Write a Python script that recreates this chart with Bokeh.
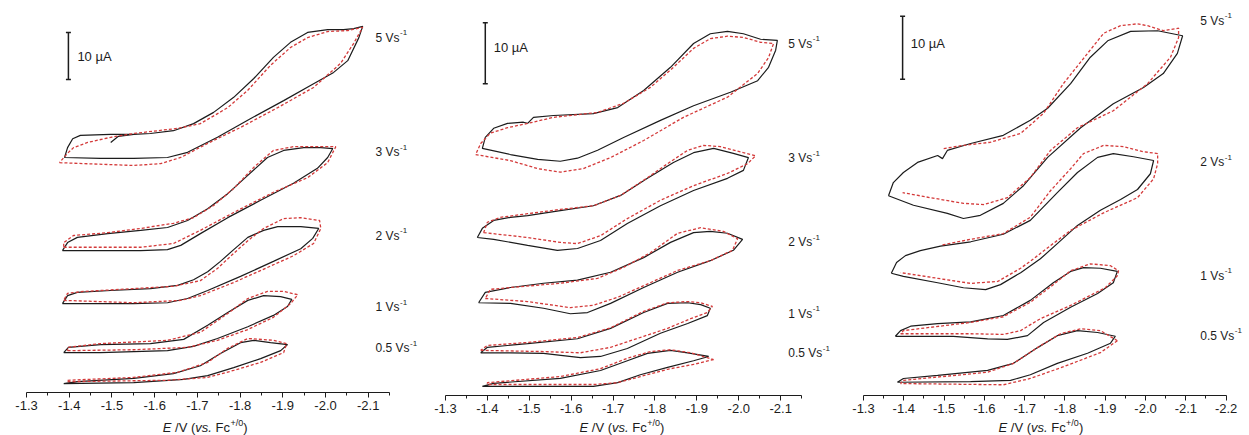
from bokeh.plotting import figure
from bokeh.layouts import row, column
from bokeh.models import Range1d, FixedTicker, Label, NumeralTickFormatter
from bokeh.embed import file_html
from bokeh.resources import INLINE

# ---------------- data: E (V vs Fc+/0), I (uA, stacked) ----------------
# Panel 1
P1_5_BK_E = [-1.497,-1.515,-1.551,-1.590,-1.644,-1.691,-1.738,-1.785,-1.832,-1.878,-1.918,-1.958,-2.005,-2.042,-2.066,-2.087,-2.078,-2.052,-2.019,-1.972,-1.902,-1.825,-1.747,-1.677,-1.630,-1.551,-1.473,-1.389,-1.396,-1.408,-1.426,-1.497,-1.551]
P1_5_BK_I = [53.2,54.5,54.9,55.1,55.7,57.2,59.6,62.8,66.8,71.3,74.5,76.6,77.2,77.2,77.4,77.9,75.5,70.6,68.1,65.7,62.1,58.3,54.3,51.1,50.0,49.8,49.8,50.0,52.1,54.0,54.7,54.9,54.9]
P1_5_RD_E = [-1.377,-1.433,-1.551,-1.614,-1.661,-1.724,-1.801,-1.888,-1.972,-2.035,-2.066,-2.087,-2.052,-2.005,-1.958,-1.918,-1.871,-1.818,-1.771,-1.707,-1.654,-1.551,-1.497,-1.443,-1.410,-1.396,-1.377]
P1_5_RD_I = [48.9,48.7,48.3,48.7,50.0,53.0,56.4,60.6,64.9,70.0,74.3,77.7,77.0,76.8,75.5,73.4,69.6,64.3,60.6,57.2,56.2,55.1,54.3,53.2,52.1,50.9,48.9]
P1_3_BK_E = [-1.384,-1.396,-1.419,-1.490,-1.567,-1.630,-1.677,-1.724,-1.771,-1.818,-1.864,-1.902,-1.949,-1.989,-2.017,-2.005,-1.981,-1.925,-1.848,-1.771,-1.707,-1.661,-1.630,-1.567,-1.490,-1.384]
P1_3_BK_I = [30.2,31.9,33.0,33.8,34.5,35.1,36.6,39.1,42.3,46.2,50.0,51.5,52.1,52.1,51.9,50.0,47.7,44.5,40.9,37.2,33.8,31.3,30.4,30.2,30.2,30.2]
P1_3_RD_E = [-1.387,-1.567,-1.644,-1.707,-1.785,-1.878,-1.958,-2.005,-2.024,-1.989,-1.925,-1.878,-1.832,-1.785,-1.738,-1.691,-1.644,-1.567,-1.490,-1.410,-1.387,-1.387]
P1_3_RD_I = [30.9,30.9,31.7,34.5,38.3,42.6,45.7,48.9,52.3,52.3,52.3,51.5,47.9,43.4,39.8,37.2,36.0,34.9,34.0,33.4,31.9,30.9]
P1_2_BK_E = [-1.384,-1.396,-1.419,-1.497,-1.590,-1.654,-1.691,-1.724,-1.754,-1.785,-1.818,-1.855,-1.888,-1.942,-1.984,-1.970,-1.942,-1.878,-1.801,-1.724,-1.677,-1.630,-1.551,-1.384]
P1_2_BK_I = [18.9,20.6,21.3,21.7,22.1,22.8,24.0,25.7,27.9,30.4,33.0,34.5,35.3,35.3,34.9,32.8,30.6,27.9,24.7,21.7,20.0,19.1,18.9,18.9]
P1_2_RD_E = [-1.387,-1.551,-1.661,-1.707,-1.785,-1.864,-1.925,-1.972,-1.989,-1.986,-1.942,-1.902,-1.855,-1.818,-1.785,-1.747,-1.707,-1.644,-1.551,-1.433,-1.396,-1.387]
P1_2_RD_I = [19.6,19.1,19.6,20.6,23.4,26.6,29.1,31.7,34.9,36.6,37.2,37.0,34.9,32.3,29.6,26.4,23.8,22.6,22.1,21.5,21.1,19.6]
P1_1_BK_E = [-1.387,-1.398,-1.473,-1.590,-1.668,-1.724,-1.771,-1.818,-1.855,-1.895,-1.921,-1.911,-1.878,-1.818,-1.747,-1.691,-1.630,-1.473,-1.387]
P1_1_BK_I = [8.5,9.6,10.2,10.4,11.3,14.3,17.0,19.6,20.6,20.4,19.8,18.3,16.4,14.0,11.5,9.8,8.9,8.5,8.5]
P1_1_RD_E = [-1.396,-1.551,-1.677,-1.747,-1.818,-1.878,-1.918,-1.935,-1.902,-1.864,-1.818,-1.771,-1.707,-1.630,-1.473,-1.396,-1.396]
P1_1_RD_I = [8.9,9.1,9.6,11.1,13.4,16.0,18.9,20.8,21.5,21.5,20.0,16.8,12.8,11.1,10.4,9.6,8.9]
P1_05_BK_E = [-1.387,-1.419,-1.551,-1.644,-1.707,-1.754,-1.801,-1.832,-1.871,-1.911,-1.895,-1.848,-1.785,-1.724,-1.668,-1.551,-1.387]
P1_05_BK_I = [1.9,2.3,3.0,4.0,5.7,8.3,10.6,11.1,10.6,10.2,8.9,7.2,5.3,3.6,2.8,2.1,1.9]
P1_05_RD_E = [-1.396,-1.630,-1.724,-1.785,-1.848,-1.902,-1.909,-1.878,-1.818,-1.771,-1.724,-1.654,-1.551,-1.396,-1.396]
P1_05_RD_I = [2.3,2.6,3.2,4.7,6.4,8.5,10.4,11.1,11.5,9.4,6.4,4.3,3.2,2.6,2.3]

# Panel 2
P2_5_BK_E = [-1.496,-1.510,-1.558,-1.653,-1.711,-1.773,-1.837,-1.892,-1.932,-1.973,-2.011,-2.052,-2.092,-2.088,-2.071,-2.045,-1.980,-1.892,-1.813,-1.725,-1.663,-1.615,-1.574,-1.520,-1.455,-1.388,-1.395,-1.415,-1.448,-1.486,-1.496]
P2_5_BK_I = [44.6,45.6,45.9,46.2,47.2,50.0,53.8,57.7,59.3,59.7,59.3,58.4,58.2,56.6,53.8,51.6,49.7,47.5,45.1,42.3,40.2,38.9,38.4,38.7,39.5,40.5,42.3,43.8,44.6,44.8,44.6]
P2_5_RD_E = [-1.372,-1.455,-1.520,-1.574,-1.629,-1.694,-1.773,-1.868,-1.973,-2.045,-2.071,-2.083,-2.052,-2.011,-1.973,-1.932,-1.892,-1.844,-1.789,-1.725,-1.663,-1.558,-1.496,-1.448,-1.407,-1.384,-1.372]
P2_5_RD_I = [39.5,38.5,37.2,36.6,37.2,39.0,41.8,45.6,48.9,52.8,55.4,57.7,57.9,58.7,58.9,58.5,56.9,53.8,50.5,47.9,46.4,45.6,44.6,43.9,43.0,41.3,39.5]
P2_3_BK_E = [-1.376,-1.388,-1.415,-1.455,-1.496,-1.574,-1.653,-1.718,-1.782,-1.844,-1.892,-1.940,-1.987,-2.023,-2.011,-1.973,-1.892,-1.813,-1.734,-1.670,-1.615,-1.567,-1.496,-1.415,-1.376]
P2_3_BK_I = [25.9,27.4,28.7,29.2,29.5,30.3,31.1,32.8,35.6,38.2,39.8,40.5,39.7,39.0,36.9,35.6,33.6,31.1,28.2,25.4,24.1,23.8,24.6,25.6,25.9]
P2_3_RD_E = [-1.391,-1.496,-1.574,-1.615,-1.670,-1.734,-1.813,-1.892,-1.973,-2.021,-2.040,-2.011,-1.956,-1.916,-1.878,-1.830,-1.782,-1.718,-1.653,-1.574,-1.496,-1.431,-1.400,-1.391]
P2_3_RD_I = [26.7,25.9,25.1,24.9,26.2,29.0,32.0,34.4,36.4,38.0,39.3,39.8,40.8,41.0,40.2,38.0,35.7,32.8,31.1,30.5,29.8,29.2,28.4,26.7]
P2_2_BK_E = [-1.379,-1.395,-1.455,-1.534,-1.615,-1.694,-1.773,-1.837,-1.892,-1.932,-1.973,-2.009,-1.987,-1.932,-1.854,-1.773,-1.694,-1.639,-1.598,-1.534,-1.455,-1.379]
P2_2_BK_I = [15.2,16.9,17.7,18.4,18.9,20.2,22.6,25.1,26.7,26.9,26.6,25.6,23.8,22.1,20.2,17.7,15.1,13.6,13.4,14.3,15.1,15.2]
P2_2_RD_E = [-1.395,-1.496,-1.598,-1.653,-1.711,-1.773,-1.854,-1.932,-1.985,-1.997,-1.963,-1.909,-1.854,-1.789,-1.725,-1.663,-1.574,-1.455,-1.407,-1.395]
P2_2_RD_I = [15.9,15.4,14.4,14.8,16.1,18.0,20.5,22.1,23.8,25.7,26.9,27.5,26.6,23.4,21.0,19.2,18.4,17.7,17.4,15.9]
P2_1_BK_E = [-1.384,-1.400,-1.496,-1.615,-1.694,-1.773,-1.830,-1.878,-1.909,-1.932,-1.925,-1.878,-1.813,-1.734,-1.670,-1.622,-1.534,-1.455,-1.384]
P2_1_BK_I = [7.0,7.9,8.5,9.3,11.0,13.6,15.1,15.2,14.9,14.3,13.1,11.8,10.2,7.7,6.4,6.2,6.9,7.0,7.0]
P2_1_RD_E = [-1.384,-1.534,-1.622,-1.694,-1.773,-1.830,-1.885,-1.925,-1.937,-1.909,-1.878,-1.830,-1.773,-1.694,-1.615,-1.496,-1.400,-1.384]
P2_1_RD_I = [7.4,7.2,7.0,7.9,9.7,11.0,12.6,13.6,14.6,15.2,15.4,15.2,13.8,11.1,9.5,8.7,8.2,7.4]
P2_05_BK_E = [-1.388,-1.415,-1.574,-1.670,-1.734,-1.782,-1.837,-1.878,-1.928,-1.892,-1.830,-1.765,-1.711,-1.653,-1.574,-1.388]
P2_05_BK_I = [1.5,2.0,2.8,4.1,5.7,6.9,7.4,7.0,6.4,5.7,4.6,3.4,2.1,1.5,1.5,1.5]
P2_05_RD_E = [-1.940,-1.892,-1.830,-1.765,-1.711,-1.653,-1.574,-1.400,-1.400,-1.574,-1.670,-1.734,-1.789,-1.837,-1.885,-1.940]
P2_05_RD_I = [5.9,5.1,4.3,3.1,2.1,1.8,1.8,1.8,2.1,3.1,4.4,6.1,7.2,7.5,7.0,5.9]

# Panel 3
P3_5_BK_E = [-1.362,-1.374,-1.399,-1.434,-1.484,-1.496,-1.508,-1.566,-1.647,-1.714,-1.757,-1.814,-1.863,-1.906,-1.963,-2.030,-2.092,-2.079,-2.044,-1.995,-1.920,-1.839,-1.757,-1.697,-1.647,-1.590,-1.548,-1.508,-1.424,-1.362]
P3_5_BK_I = [31.7,33.8,35.4,37.0,38.1,37.6,38.9,40.0,41.3,43.7,45.6,49.5,53.7,56.3,57.8,57.9,57.1,54.3,51.1,48.9,46.3,42.5,37.8,33.3,30.5,28.6,28.1,28.9,30.2,31.7]
P3_5_RD_E = [-1.499,-1.548,-1.615,-1.690,-1.747,-1.796,-1.856,-1.896,-1.938,-1.980,-2.005,-2.044,-2.082,-2.082,-2.062,-2.005,-1.920,-1.831,-1.764,-1.714,-1.657,-1.598,-1.548,-1.466,-1.397]
P3_5_RD_I = [39.2,39.7,40.2,41.6,44.8,49.5,54.3,57.5,58.7,59.0,58.7,57.9,58.3,56.8,53.7,49.5,45.2,42.5,38.9,34.6,31.4,30.3,30.5,31.4,32.2]
P3_2_BK_E = [-1.369,-1.382,-1.404,-1.441,-1.491,-1.566,-1.647,-1.714,-1.781,-1.831,-1.881,-1.920,-1.970,-2.020,-2.012,-1.980,-1.938,-1.888,-1.831,-1.781,-1.739,-1.690,-1.640,-1.603,-1.548,-1.484,-1.399,-1.369]
P3_2_BK_I = [19.4,21.1,22.2,23.0,23.7,24.4,25.6,27.8,32.2,35.4,37.8,38.4,37.9,37.3,35.2,32.7,31.1,29.4,27.0,24.1,21.7,19.5,17.6,16.8,17.1,17.9,18.9,19.4]
P3_2_RD_E = [-1.496,-1.566,-1.647,-1.714,-1.764,-1.814,-1.846,-1.896,-1.945,-1.995,-2.030,-2.030,-2.020,-1.980,-1.896,-1.814,-1.764,-1.722,-1.690,-1.633,-1.566,-1.484,-1.392]
P3_2_RD_I = [23.9,24.8,25.7,28.3,32.5,36.0,38.4,39.7,39.5,38.7,38.4,36.8,34.4,31.4,29.0,26.2,23.8,21.7,20.2,18.1,17.8,18.6,19.5]
P3_1_BK_E = [-1.379,-1.392,-1.417,-1.484,-1.566,-1.647,-1.714,-1.771,-1.814,-1.846,-1.888,-1.930,-1.920,-1.881,-1.814,-1.747,-1.707,-1.657,-1.608,-1.523,-1.379]
P3_1_BK_I = [9.4,10.3,11.0,11.4,11.7,12.7,15.1,17.9,19.7,20.3,20.2,19.7,17.9,16.2,14.0,11.6,9.5,8.9,9.0,9.4,9.4]
P3_1_RD_E = [-1.392,-1.566,-1.647,-1.690,-1.739,-1.814,-1.900,-1.930,-1.933,-1.913,-1.863,-1.814,-1.771,-1.714,-1.647,-1.566,-1.399,-1.392]
P3_1_RD_I = [9.8,9.8,9.7,10.3,12.2,14.3,17.1,19.0,19.8,20.6,20.9,19.8,17.6,14.8,12.5,11.6,10.3,9.8]
P3_05_BK_E = [-1.384,-1.399,-1.484,-1.608,-1.672,-1.732,-1.781,-1.831,-1.881,-1.925,-1.913,-1.856,-1.781,-1.714,-1.665,-1.566,-1.384]
P3_05_BK_I = [2.1,2.7,3.2,4.0,5.1,7.6,9.5,10.3,10.0,9.4,8.3,6.7,5.1,3.3,2.4,2.2,2.1]
P3_05_RD_E = [-1.930,-1.888,-1.789,-1.714,-1.647,-1.392,-1.399,-1.608,-1.672,-1.739,-1.789,-1.839,-1.888,-1.930]
P3_05_RD_I = [8.7,6.8,4.4,2.7,1.7,1.9,2.4,3.7,5.1,7.9,9.8,10.6,10.3,8.7]

RATES_12 = ["5", "3", "2", "1", "0.5"]
RATES_3 = ["5", "2", "1", "0.5"]
TICKS_12 = [-1.3, -1.4, -1.5, -1.6, -1.7, -1.8, -1.9, -2.0, -2.1]
TICKS_3 = [-1.3, -1.4, -1.5, -1.6, -1.7, -1.8, -1.9, -2.0, -2.1, -2.2]
SCALE_UA = 10

# ---------------- styling ----------------
FONT = "Liberation Sans"
BLACK = "#1c1c1c"
RED = "#d43a3a"

CURVES_1 = [(P1_5_BK_E, P1_5_BK_I, P1_5_RD_E, P1_5_RD_I), (P1_3_BK_E, P1_3_BK_I, P1_3_RD_E, P1_3_RD_I),
            (P1_2_BK_E, P1_2_BK_I, P1_2_RD_E, P1_2_RD_I), (P1_1_BK_E, P1_1_BK_I, P1_1_RD_E, P1_1_RD_I),
            (P1_05_BK_E, P1_05_BK_I, P1_05_RD_E, P1_05_RD_I)]
CURVES_2 = [(P2_5_BK_E, P2_5_BK_I, P2_5_RD_E, P2_5_RD_I), (P2_3_BK_E, P2_3_BK_I, P2_3_RD_E, P2_3_RD_I),
            (P2_2_BK_E, P2_2_BK_I, P2_2_RD_E, P2_2_RD_I), (P2_1_BK_E, P2_1_BK_I, P2_1_RD_E, P2_1_RD_I),
            (P2_05_BK_E, P2_05_BK_I, P2_05_RD_E, P2_05_RD_I)]
CURVES_3 = [(P3_5_BK_E, P3_5_BK_I, P3_5_RD_E, P3_5_RD_I), (P3_2_BK_E, P3_2_BK_I, P3_2_RD_E, P3_2_RD_I),
            (P3_1_BK_E, P3_1_BK_I, P3_1_RD_E, P3_1_RD_I), (P3_05_BK_E, P3_05_BK_I, P3_05_RD_E, P3_05_RD_I)]

MAIN_H = 418
STRIP_H = 17


def minors(ticks, last):
    out = []
    for t in ticks:
        m = round(t - 0.05, 3)
        if m >= last - 1e-9:
            out.append(m)
    return out


def make_panel(curves, rates, ticks, width, xr, ytop, bottom, bound_end, rate_x, rate_y,
               bar_x, bar_y0, bar_lab, title_x):
    x_range = Range1d(*xr)
    p = figure(width=width, height=MAIN_H, x_range=x_range, y_range=Range1d(0, ytop),
               output_backend="svg", toolbar_location=None, y_axis_location=None,
               min_border_left=0, min_border_right=0, min_border_top=0,
               min_border_bottom=bottom)
    p.outline_line_color = None
    p.xgrid.visible = False
    p.ygrid.visible = False
    p.background_fill_color = "white"
    p.border_fill_color = "white"

    for be, bi, re_, ri in curves:
        assert len(be) == len(bi) and len(re_) == len(ri)
        p.line(be, bi, line_color=BLACK, line_width=1.2)
    for be, bi, re_, ri in curves:
        p.line(re_, ri, line_color=RED, line_width=1.3, line_dash="3 2")

    ax = p.xaxis[0]
    ax.ticker = FixedTicker(ticks=ticks, minor_ticks=minors(ticks, bound_end))
    ax.formatter = NumeralTickFormatter(format="0.0")
    ax.bounds = (bound_end, -1.3)
    ax.axis_line_color = BLACK
    ax.axis_line_width = 1
    ax.major_tick_line_color = BLACK
    ax.minor_tick_line_color = BLACK
    ax.major_tick_in = 0
    ax.major_tick_out = 5
    ax.minor_tick_in = 0
    ax.minor_tick_out = 3
    ax.major_label_standoff = 3
    ax.major_label_text_font = FONT
    ax.major_label_text_font_size = "13px"
    ax.major_label_text_color = BLACK

    # scan-rate labels
    for r, y in zip(rates, rate_y):
        main = r + " Vs"
        p.add_layout(Label(x=rate_x, y=y, text=main, text_font=FONT, text_font_size="12px",
                           text_color=BLACK, text_baseline="middle", text_align="left"))
        w = sum({"V": 8.0, "s": 6.0, " ": 3.33, ".": 3.33}.get(c, 6.67) for c in main)
        p.add_layout(Label(x=rate_x, y=y, x_offset=w + 0.5, y_offset=5, text="-1",
                           text_font=FONT, text_font_size="8px", text_color=BLACK,
                           text_baseline="middle", text_align="left"))

    # 10 uA scale bar
    p.segment(x0=[bar_x], y0=[bar_y0], x1=[bar_x], y1=[bar_y0 + SCALE_UA],
              line_color=BLACK, line_width=1.5)
    p.scatter([bar_x, bar_x], [bar_y0, bar_y0 + SCALE_UA], marker="dash", size=5,
              line_color=BLACK, line_width=1.5)
    p.add_layout(Label(x=bar_lab[0], y=bar_lab[1], text="%d \u00b5A" % SCALE_UA,
                       text_font=FONT, text_font_size="13px", text_color=BLACK,
                       text_baseline="middle", text_align="left"))

    # axis title strip: E /V (vs. Fc+/0)
    s = figure(width=width, height=STRIP_H, x_range=x_range, y_range=Range1d(0, STRIP_H),
               output_backend="svg", toolbar_location=None, x_axis_location=None,
               y_axis_location=None, min_border=0)
    s.outline_line_color = None
    s.xgrid.visible = False
    s.ygrid.visible = False
    s.background_fill_color = "white"
    s.border_fill_color = "white"
    parts = [("E", "italic", "13px", 0.0, 0),
             ("/V (", "normal", "13px", 12.3, 0),
             ("vs.", "italic", "13px", 32.5, 0),
             ("Fc", "normal", "13px", 52.7, 0),
             ("+/0", "normal", "9px", 67.6, 4),
             (")", "normal", "13px", 80.5, 0)]
    for txt, style, size, off, yoff in parts:
        s.add_layout(Label(x=title_x, y=8.5, x_offset=off, y_offset=yoff, text=txt,
                           text_font=FONT, text_font_style=style, text_font_size=size,
                           text_color=BLACK, text_baseline="middle", text_align="left"))
    return column(p, s, spacing=0)


c1 = make_panel(CURVES_1, RATES_12, TICKS_12, 419, (-1.239, -2.220), 83.4, MAIN_H - 392, -2.15,
                -2.117, [75.5, 51.1, 33.4, 18.1, 9.4],
                -1.398, 66.6, (-1.419, 71.5), -1.619)
c2 = make_panel(CURVES_2, RATES_12, TICKS_12, 413, (-1.238, -2.2236), 64.75, MAIN_H - 395, -2.15,
                -2.118, [57.7, 38.9, 25.1, 13.4, 6.9],
                -1.395, 51.1, (-1.415, 57.0), -1.620)
c3 = make_panel(CURVES_3, RATES_3, TICKS_3, 417, (-1.223, -2.258), 62.7, MAIN_H - 395, -2.2,
                -2.136, [59.5, 37.0, 19.0, 9.5],
                -1.397, 50.2, (-1.417, 55.9), -1.635)

layout = row(c1, c2, c3, spacing=0)
open("out.html", "w").write(file_html(layout, INLINE))
